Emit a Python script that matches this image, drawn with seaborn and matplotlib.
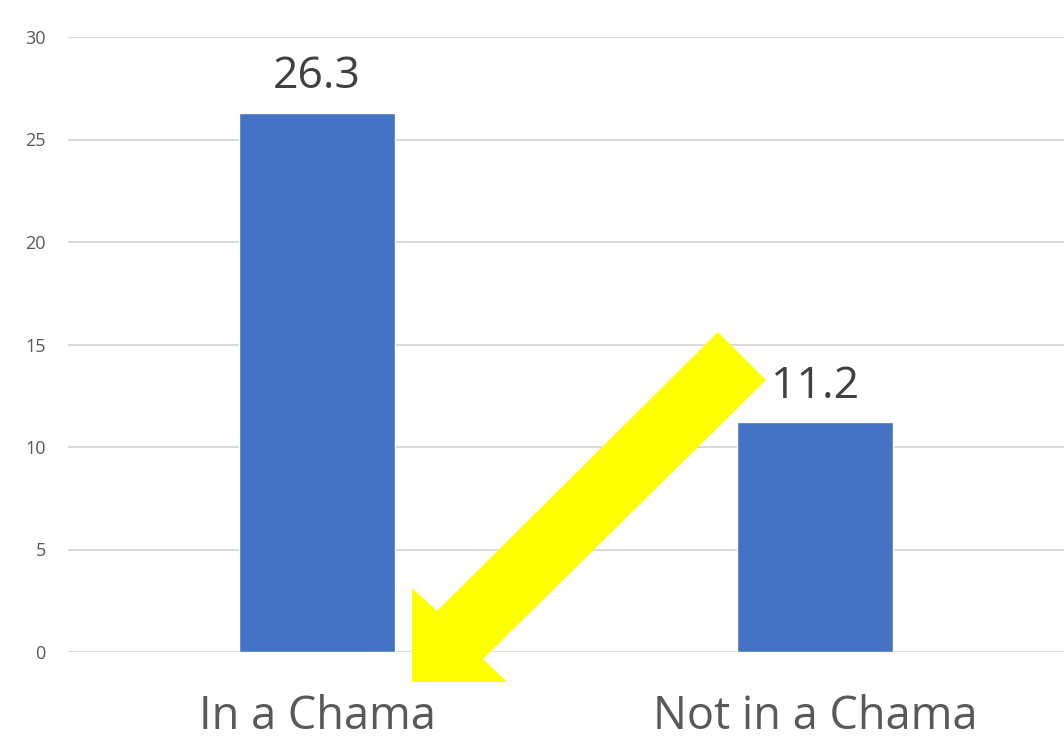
import matplotlib
matplotlib.use("Agg")
import matplotlib.pyplot as plt
from matplotlib.patches import Polygon
import seaborn as sns
import pandas as pd

categories = ["In a Chama", "Not in a Chama"]
values = [26.3, 11.2]
yticks = [0, 5, 10, 15, 20, 25, 30]

sns.set_theme(style="white")
plt.rcParams["font.family"] = ["Open Sans", "DejaVu Sans"]

df = pd.DataFrame({"group": categories, "value": values})

fig = plt.figure(figsize=(10.64, 7.42), dpi=100)
ax = fig.add_axes([68 / 1064, 90 / 742, 996 / 1064, 615 / 742])

sns.barplot(data=df, x="group", y="value", color="#4472C4", width=0.315,
            saturation=1, ax=ax, zorder=3)

ax.set_ylim(0, 30)
ax.set_xlim(-0.5, 1.5)
ax.set_yticks(yticks)
ax.set_yticklabels([str(t) for t in yticks])
ax.yaxis.grid(True, color="#d9d9d9", linewidth=1.4, zorder=0)
ax.set_axisbelow(True)
for s in ax.spines.values():
    s.set_visible(False)
ax.tick_params(axis="y", length=0, pad=16, labelsize=13, labelcolor="#595959")
ax.tick_params(axis="x", length=0, pad=30, labelsize=32.5, labelcolor="#595959")
ax.set_xlabel("")
ax.set_ylabel("")

for i, v in enumerate(values):
    ax.annotate(f"{v:.1f}", xy=(i, v), xytext=(0, 10), textcoords="offset points",
                ha="center", va="bottom", fontsize=32, color="#404040")

# highlight arrow pointing at the first group
W, H = 1064, 742
pts = [(718, 332), (766, 380), (483, 659), (507, 682),
       (412, 682), (412, 588), (437, 611)]
arrow = Polygon([(x / W, 1 - y / H) for x, y in pts], closed=True,
                transform=fig.transFigure, facecolor="#FFFF00",
                edgecolor="none", zorder=10)
fig.patches.append(arrow)

fig.savefig("out.png", dpi=100)
